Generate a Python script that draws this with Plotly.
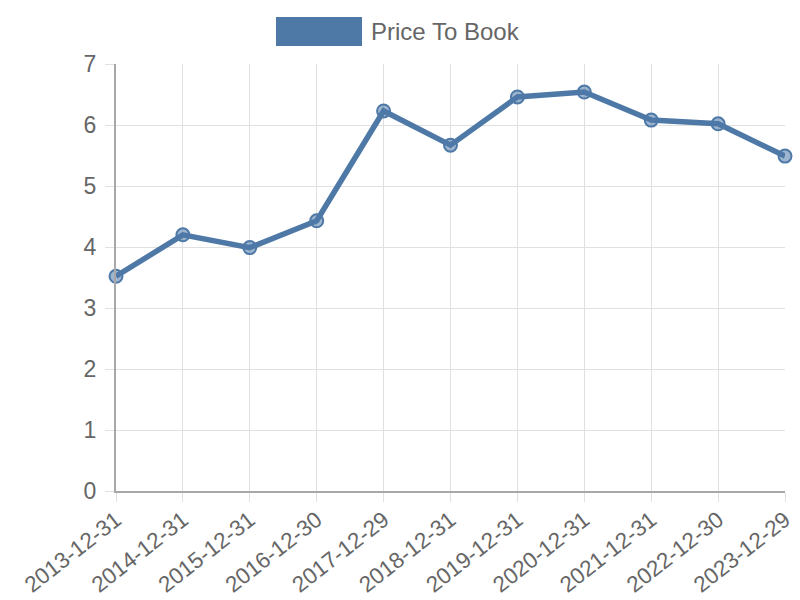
import plotly.graph_objects as go

dates = ["2013-12-31", "2014-12-31", "2015-12-31", "2016-12-30", "2017-12-29",
         "2018-12-31", "2019-12-31", "2020-12-31", "2021-12-31", "2022-12-30",
         "2023-12-29"]
price_to_book = [3.52, 4.20, 3.99, 4.43, 6.23, 5.67, 6.46, 6.54, 6.08, 6.02, 5.49]
series_name = "Price To Book"

blue = "#4e79a7"
font_name = "Liberation Sans, Arial, sans-serif"

fig = go.Figure()
fig.add_trace(go.Scatter(
    x=dates, y=price_to_book, name=series_name, mode="lines+markers",
    line=dict(color=blue, width=5.5),
    marker=dict(size=13, color="rgba(78,121,167,0.55)", line=dict(color=blue, width=2)),
    showlegend=False, cliponaxis=False,
))

# legend drawn by hand so the swatch looks like the original box
fig.add_shape(type="rect", xref="paper", yref="paper",
              x0=(276 - 116) / 669, x1=(362 - 116) / 669,
              y0=(491 - 46) / 427, y1=(491 - 17) / 427,
              fillcolor=blue, line=dict(width=0))
fig.add_annotation(xref="paper", yref="paper", x=(369 - 116) / 669, y=(491 - 32) / 427,
                   text=series_name, showarrow=False, xanchor="left", yanchor="middle",
                   font=dict(size=24, color="#666666", family=font_name))

fig.update_xaxes(
    type="category", range=[0, len(dates) - 1], tickangle=-38,
    showgrid=True, gridcolor="#e0e0e0", gridwidth=1,
    ticks="outside", ticklen=9, tickcolor="#e0e0e0",
    showline=True, linecolor="#a8a8a8", linewidth=2,
    automargin=False, ticklabelstandoff=-4,
    tickfont=dict(size=22.5, color="#666666", family=font_name),
)
fig.update_yaxes(
    range=[0, 7], dtick=1,
    showgrid=True, gridcolor="#e0e0e0", gridwidth=1,
    ticks="outside", ticklen=9, tickcolor="#e0e0e0",
    showline=True, linecolor="#a8a8a8", linewidth=2,
    zeroline=False, automargin=False, ticklabelstandoff=4,
    tickfont=dict(size=23, color="#666666", family=font_name),
)
fig.update_layout(
    width=800, height=600,
    margin=dict(l=116, r=15, t=64, b=109),
    plot_bgcolor="white", paper_bgcolor="white",
    font=dict(family=font_name),
)

# the page body has a default 8px margin; drop it so the figure sits at 0,0
fig.write_html("out.html", config={"displayModeBar": False},
               post_script="document.body.style.margin='0';")
